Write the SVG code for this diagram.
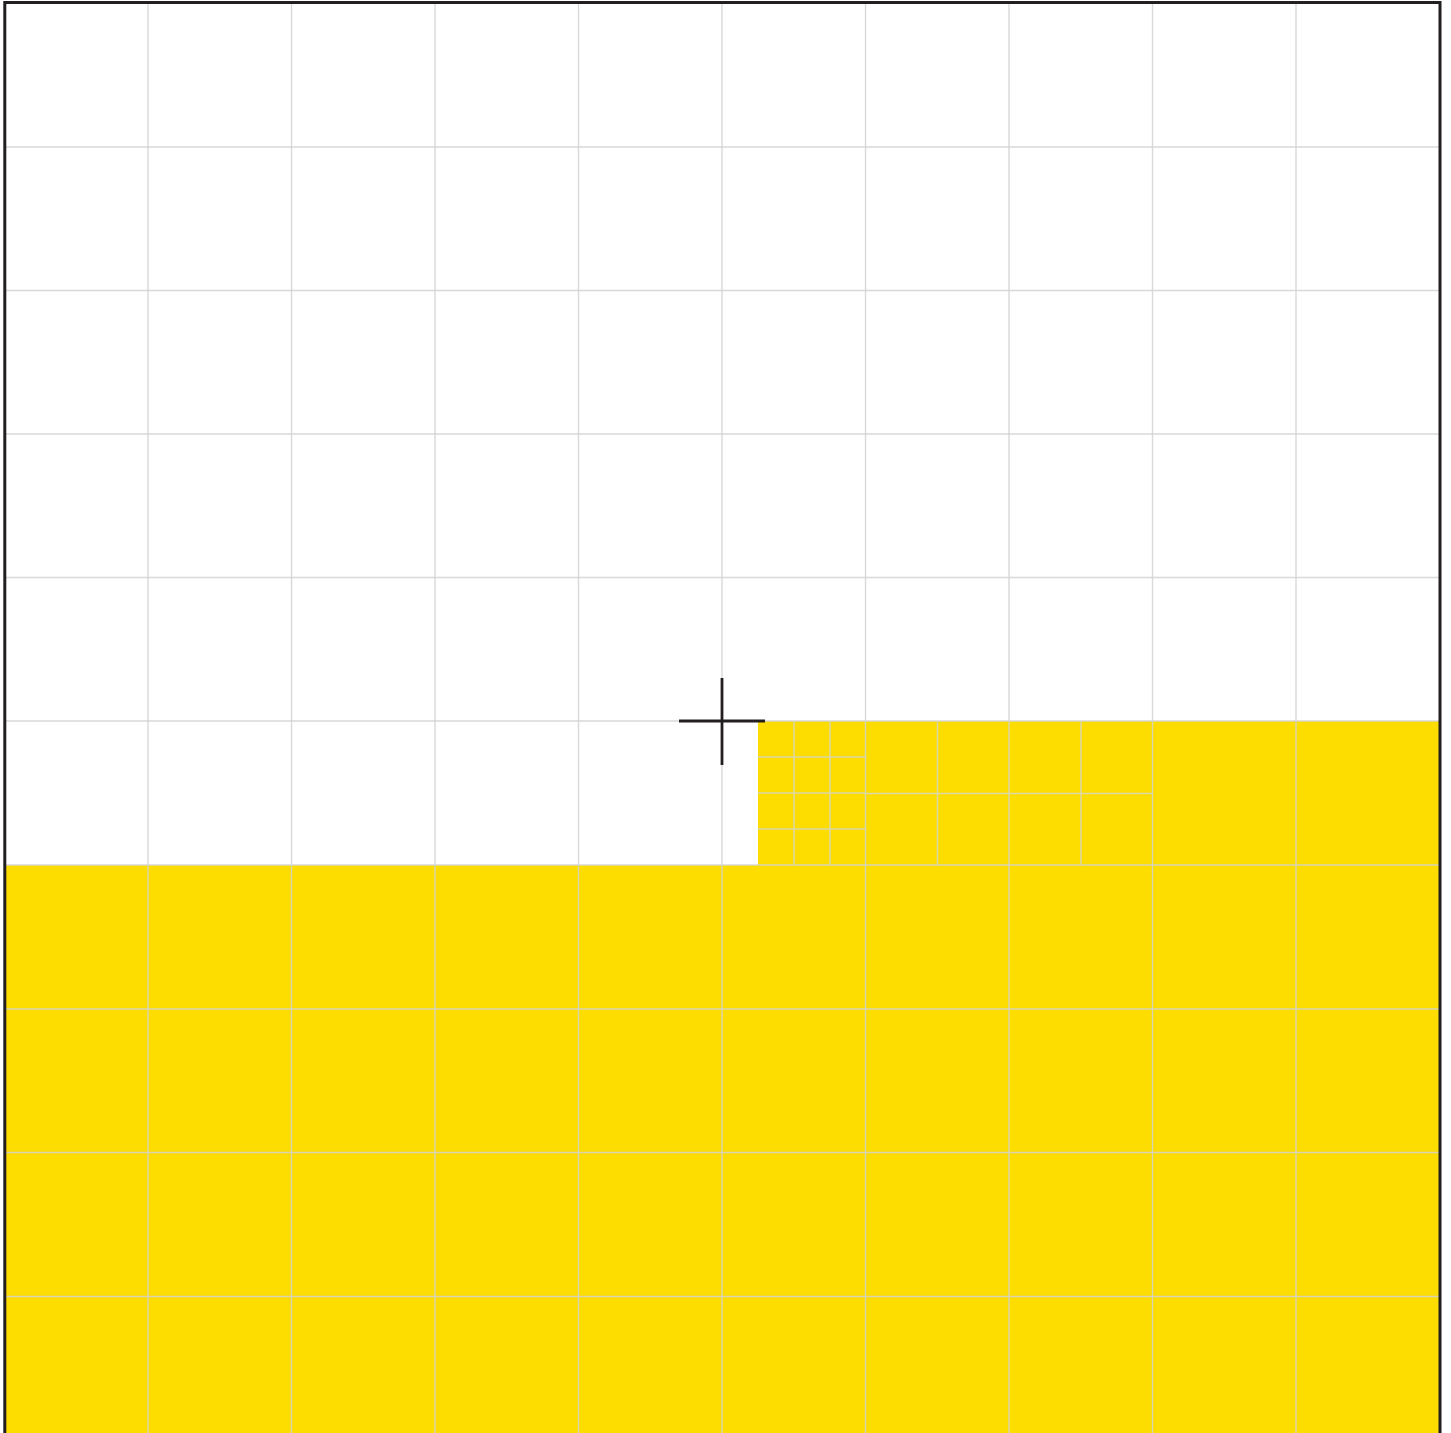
<svg xmlns="http://www.w3.org/2000/svg" width="1451" height="1433" viewBox="0 0 1451 1433">
<style>
.fill{fill:#fddc00}
.grid{stroke:#d2d2d2;stroke-width:1.4;fill:none;opacity:0.85}
.fine{stroke:#dcd6a8;stroke-width:1.5;fill:none}
.ink{stroke:#231f20;fill:none}
</style>
<rect width="1451" height="1433" fill="#ffffff"/>
<g id="yellow-region">
<rect class="fill" x="4.5" y="865" width="1435" height="570"/>
<rect class="fill" x="758" y="721" width="681.5" height="144"/>
</g>
<g id="grid">
<path class="grid" d="M148,3V1433 M291.5,3V1433 M435,3V1433 M578.5,3V1433 M722,3V1433 M865.5,3V1433 M1009,3V1433 M1152.5,3V1433 M1296,3V1433"/>
<path class="grid" d="M4.5,147H1439.5 M4.5,290.5H1439.5 M4.5,434H1439.5 M4.5,577.5H1439.5 M4.5,721H1439.5 M4.5,865H1439.5 M4.5,1009H1439.5 M4.5,1152.5H1439.5 M4.5,1296.5H1439.5"/>
</g>
<g id="refined-cells">
<path class="fine" d="M794,721V865 M830,721V865 M758,757H865.5 M758,793H865.5 M758,829H865.5"/>
<path class="fine" d="M937.5,721V865 M1081,721V865 M865.5,793.5H1152.5"/>
</g>
<g id="crosshair">
<path class="ink" stroke-width="2.8" d="M679,721H765 M722,678V765"/>
</g>
<g id="frame">
<path class="ink" stroke-width="3" d="M4.8,1436V2.5H1440V1436"/>
</g>
</svg>
